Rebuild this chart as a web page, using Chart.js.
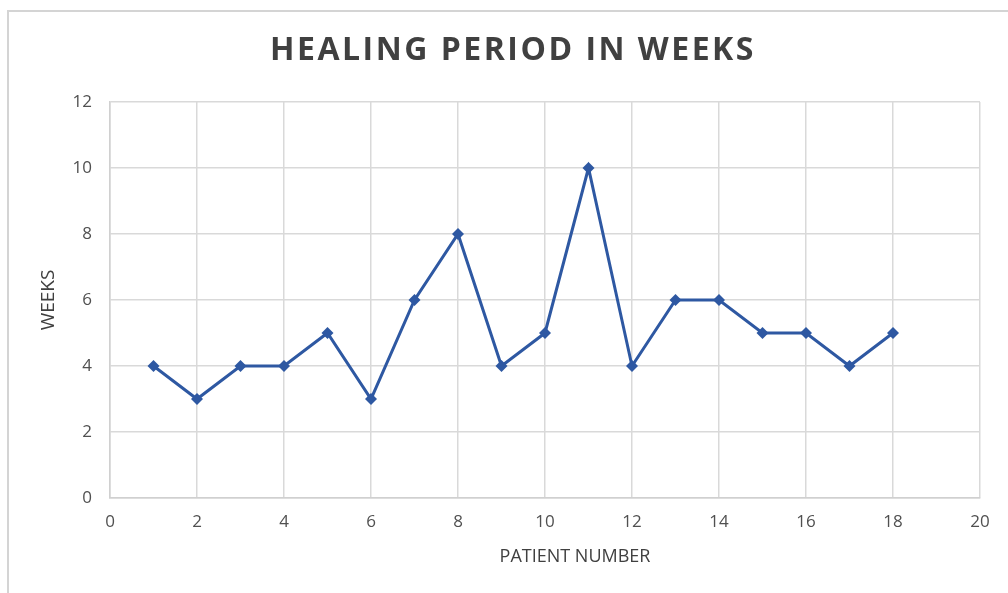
<!DOCTYPE html>
<html>
<head>
<meta charset="utf-8">
<script src="https://cdn.jsdelivr.net/npm/chart.js@4"></script>
<style>
  html, body { margin: 0; padding: 0; background: #fff; }
  #wrap { position: relative; width: 1008px; height: 593px; overflow: hidden; }
  #frame { position: absolute; left: 7px; top: 10px; width: 1100px; height: 700px;
           border-top: 2px solid #d4d4d4; border-left: 2px solid #d4d4d4; pointer-events: none; }
</style>
</head>
<body>
<div id="wrap">
  <canvas id="myChart" width="1008" height="593"></canvas>
  <div id="frame"></div>
</div>
<script>
const title = 'HEALING PERIOD IN WEEKS'
const xTitle = 'PATIENT NUMBER'
const yTitle = 'WEEKS'
const patients = [1, 2, 3, 4, 5, 6, 7, 8, 9, 10, 11, 12, 13, 14, 15, 16, 17, 18]
const weeks = [4, 3, 4, 4, 5, 3, 6, 8, 4, 5, 10, 4, 6, 6, 5, 5, 4, 5]

const points = patients.map((p, i) => ({ x: p, y: weeks[i] }))

// title + x-axis label drawn by hand so letter spacing / offset can match
const textPlugin = {
    id: 'texts',
    afterDraw(chart) {
        const ctx = chart.ctx
        ctx.save()
        ctx.textAlign = 'center'
        ctx.textBaseline = 'middle'
        ctx.fillStyle = '#404040'
        ctx.font = 'bold 32px "Open Sans"'
        ctx.letterSpacing = '2.5px'
        ctx.fillText(title, 513, 51)
        ctx.letterSpacing = '0px'
        ctx.fillStyle = '#404040'
        ctx.font = '18px "Open Sans"'
        ctx.fillText(xTitle, 575, 557)
        ctx.restore()
    }
}

const ctx = document.getElementById('myChart')
new Chart(ctx, {
    type: 'line',
    data: {
        datasets: [{
            data: points,
            borderColor: '#2e58a2',
            backgroundColor: '#2e58a2',
            borderWidth: 3,
            tension: 0,
            pointStyle: 'rectRot',
            pointRadius: 6,
            pointBorderWidth: 0
        }]
    },
    options: {
        responsive: false,
        animation: false,
        layout: { padding: { top: 102, right: 28, left: 0, bottom: 0 } },
        plugins: {
            legend: { display: false },
            tooltip: { enabled: false }
        },
        scales: {
            x: {
                type: 'linear',
                min: 0,
                max: 20,
                ticks: { stepSize: 2, padding: 14, color: '#505050', font: { family: 'Open Sans', size: 17 } },
                grid: { color: '#d9d9d9', lineWidth: 1.5, drawTicks: false },
                border: { color: '#d0d0d0', width: 1.5 },
                afterFit(scale) { scale.height = 95 }
            },
            y: {
                min: 0,
                max: 12,
                ticks: { stepSize: 2, padding: 18, color: '#505050', font: { family: 'Open Sans', size: 17 } },
                grid: { color: '#d9d9d9', lineWidth: 1.5, drawTicks: false },
                border: { color: '#d0d0d0', width: 1.5 },
                title: { display: true, text: yTitle, color: '#404040', font: { family: 'Open Sans', size: 19 }, padding: { top: 37, bottom: 0 } },
                afterFit(scale) { scale.width = 110 }
            }
        }
    },
    plugins: [textPlugin]
})
</script>
</body>
</html>
